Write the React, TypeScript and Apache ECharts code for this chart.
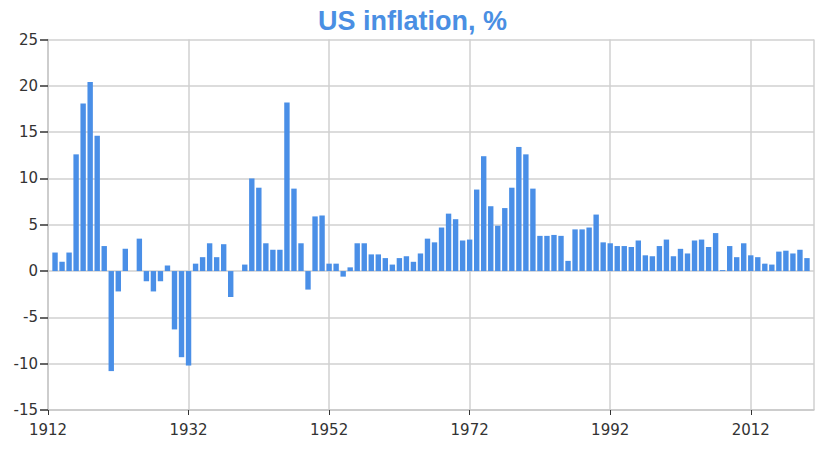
import React, { useEffect, useRef } from "react";
import * as echarts from "echarts";

const TITLE = "US inflation, %";
const FIRST_YEAR = 1913;
const X_MIN = 1912;
const X_MAX = 2021;
const X_TICK_STEP = 20;
const Y_MIN = -15;
const Y_MAX = 25;
const Y_TICK_STEP = 5;

// Annual US inflation (%), one value per year starting at FIRST_YEAR
const inflation: number[] = [
  // 1913-1919
  2.0, 1.0, 2.0, 12.6, 18.1, 20.4, 14.6,
  // 1920-1929
  2.7, -10.8, -2.2, 2.4, 0.0, 3.5, -1.1, -2.2, -1.1, 0.6,
  // 1930-1939
  -6.3, -9.3, -10.2, 0.8, 1.5, 3.0, 1.5, 2.9, -2.8, 0.0,
  // 1940-1949
  0.7, 10.0, 9.0, 3.0, 2.3, 2.3, 18.2, 8.9, 3.0, -2.0,
  // 1950-1959
  5.9, 6.0, 0.8, 0.8, -0.6, 0.4, 3.0, 3.0, 1.8, 1.8,
  // 1960-1969
  1.4, 0.7, 1.4, 1.6, 1.0, 1.9, 3.5, 3.1, 4.7, 6.2,
  // 1970-1979
  5.6, 3.3, 3.4, 8.8, 12.4, 7.0, 4.9, 6.8, 9.0, 13.4,
  // 1980-1989
  12.6, 8.9, 3.8, 3.8, 3.9, 3.8, 1.1, 4.5, 4.5, 4.7,
  // 1990-1999
  6.1, 3.1, 3.0, 2.7, 2.7, 2.6, 3.3, 1.7, 1.6, 2.7,
  // 2000-2009
  3.4, 1.6, 2.4, 1.9, 3.3, 3.4, 2.6, 4.1, 0.1, 2.7,
  // 2010-2020
  1.5, 3.0, 1.7, 1.5, 0.8, 0.7, 2.1, 2.2, 1.9, 2.3, 1.4,
];

const years: number[] = inflation.map((_, i) => FIRST_YEAR + i);

export default function App() {
  const ref = useRef<HTMLDivElement>(null);

  useEffect(() => {
    document.body.style.margin = "0";
    if (!ref.current) return;
    const chart = echarts.init(ref.current, null, { renderer: "svg" });
    const axisFont = {
      fontFamily: "DejaVu Sans",
      fontSize: 15,
      color: "#333",
    };
    chart.setOption({
      animation: false,
      title: {
        text: TITLE,
        left: 313,
        top: 2,
        textStyle: {
          fontFamily: "Liberation Sans",
          fontWeight: "bold",
          fontSize: 27,
          color: "#4a8fe3",
        },
      },
      grid: { left: 48, right: 13, top: 39.5, bottom: 40, containLabel: false },
      xAxis: {
        type: "value",
        min: X_MIN,
        max: X_MAX,
        interval: X_TICK_STEP,
        axisLine: { show: true, onZero: false, lineStyle: { color: "#c8c8c8", width: 1.5 } },
        axisTick: { show: true, length: 5, lineStyle: { color: "#333", width: 1 } },
        axisLabel: { ...axisFont, margin: 12, showMaxLabel: false, formatter: (v: number) => String(v) },
        splitLine: { show: true, lineStyle: { color: "#d0d0d0", width: 1.5 } },
      },
      yAxis: {
        type: "value",
        min: Y_MIN,
        max: Y_MAX,
        interval: Y_TICK_STEP,
        axisLine: { show: true, lineStyle: { color: "#c8c8c8", width: 1.5 } },
        axisTick: { show: true, length: 8, lineStyle: { color: "#333", width: 1.5 } },
        axisLabel: { ...axisFont, margin: 10 },
        splitLine: { show: true, lineStyle: { color: "#d0d0d0", width: 1.5 } },
      },
      series: [
        {
          type: "bar",
          data: years.map((y, i) => [y, inflation[i]]),
          barWidth: 5.4,
          itemStyle: { color: "#4a8fe7" },
        },
      ],
    });
    return () => chart.dispose();
  }, []);

  return <div ref={ref} style={{ width: 827, height: 450 }} />;
}
